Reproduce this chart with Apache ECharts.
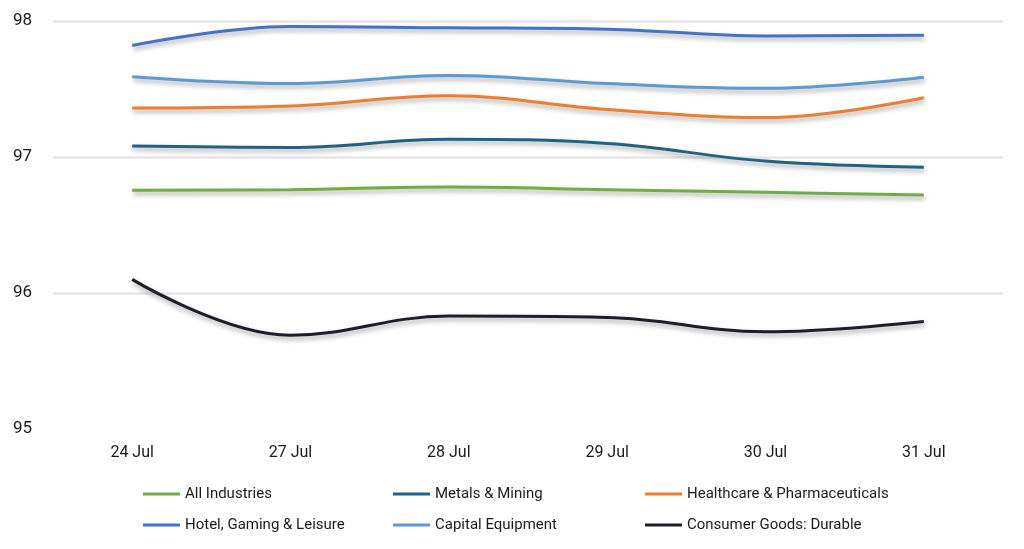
<!DOCTYPE html>
<html>
<head>
<meta charset="utf-8">
<script src="https://cdn.jsdelivr.net/npm/echarts@6/dist/echarts.min.js"></script>
<style>html,body{margin:0;padding:0;background:#fff}#c{width:1024px;height:549px}</style>
</head>
<body>
<div id="c"></div>
<script>
const categories = ['24 Jul', '27 Jul', '28 Jul', '29 Jul', '30 Jul', '31 Jul'];
const allIndustries = [96.755, 96.76, 96.78, 96.76, 96.74, 96.72];
const metalsMining = [97.08, 97.07, 97.13, 97.10, 96.97, 96.925];
const healthcare = [97.36, 97.375, 97.45, 97.35, 97.29, 97.435];
const hotelGaming = [97.82, 97.96, 97.95, 97.94, 97.89, 97.895];
const capitalEquipment = [97.59, 97.54, 97.60, 97.54, 97.505, 97.586];
const consumerDurable = [96.10, 95.69, 95.83, 95.82, 95.715, 95.79];
const yTicks = [95, 96, 97, 98];

const seriesDefs = [
  ['All Industries', allIndustries, '#70AD47'],
  ['Metals & Mining', metalsMining, '#1F6287'],
  ['Healthcare & Pharmaceuticals', healthcare, '#ED7D31'],
  ['Hotel, Gaming & Leisure', hotelGaming, '#4472C4'],
  ['Capital Equipment', capitalEquipment, '#5B9BD5'],
  ['Consumer Goods: Durable', consumerDurable, '#1E1E2A']
];

const chart = echarts.init(document.getElementById('c'));
const font = 'Roboto, "Liberation Sans", sans-serif';
const legendBase = {
  orient: 'vertical', top: 481, itemWidth: 37, itemHeight: 3, itemGap: 15,
  icon: 'rect',
  textStyle: { fontSize: 15, color: '#1a1a1a', fontFamily: font, lineHeight: 16 }
};
chart.setOption({
  animation: false,
  grid: { left: 53, right: 21, top: 21, bottom: 120 },
  legend: [
    Object.assign({}, legendBase, { left: 138, data: [seriesDefs[0][0], seriesDefs[3][0]] }),
    Object.assign({}, legendBase, { left: 388, data: [seriesDefs[1][0], seriesDefs[4][0]] }),
    Object.assign({}, legendBase, { left: 640, data: [seriesDefs[2][0], seriesDefs[5][0]] })
  ],
  xAxis: {
    type: 'category', data: categories, boundaryGap: true,
    axisLine: { show: false }, axisTick: { show: false },
    axisLabel: { fontSize: 16, color: '#1a1a1a', fontFamily: font, margin: 16 }
  },
  yAxis: {
    type: 'value', min: yTicks[0], max: yTicks[yTicks.length - 1], interval: 1,
    axisLine: { show: false }, axisTick: { show: false },
    axisLabel: { fontSize: 17, color: '#1a1a1a', fontFamily: font, margin: 21 },
    splitLine: { lineStyle: { color: ['rgba(0,0,0,0)', '#e6e6e6', '#e6e6e6', '#e6e6e6'], width: 2.5 } }
  },
  series: seriesDefs.map(([name, data, color]) => ({
    name, type: 'line', data, smooth: 0.4, symbol: 'none',
    itemStyle: { color },
    lineStyle: { color, width: 3, shadowColor: 'rgba(0,0,0,0.35)', shadowBlur: 5, shadowOffsetY: 3, shadowOffsetX: 1 }
  }))
});
</script>
</body>
</html>
